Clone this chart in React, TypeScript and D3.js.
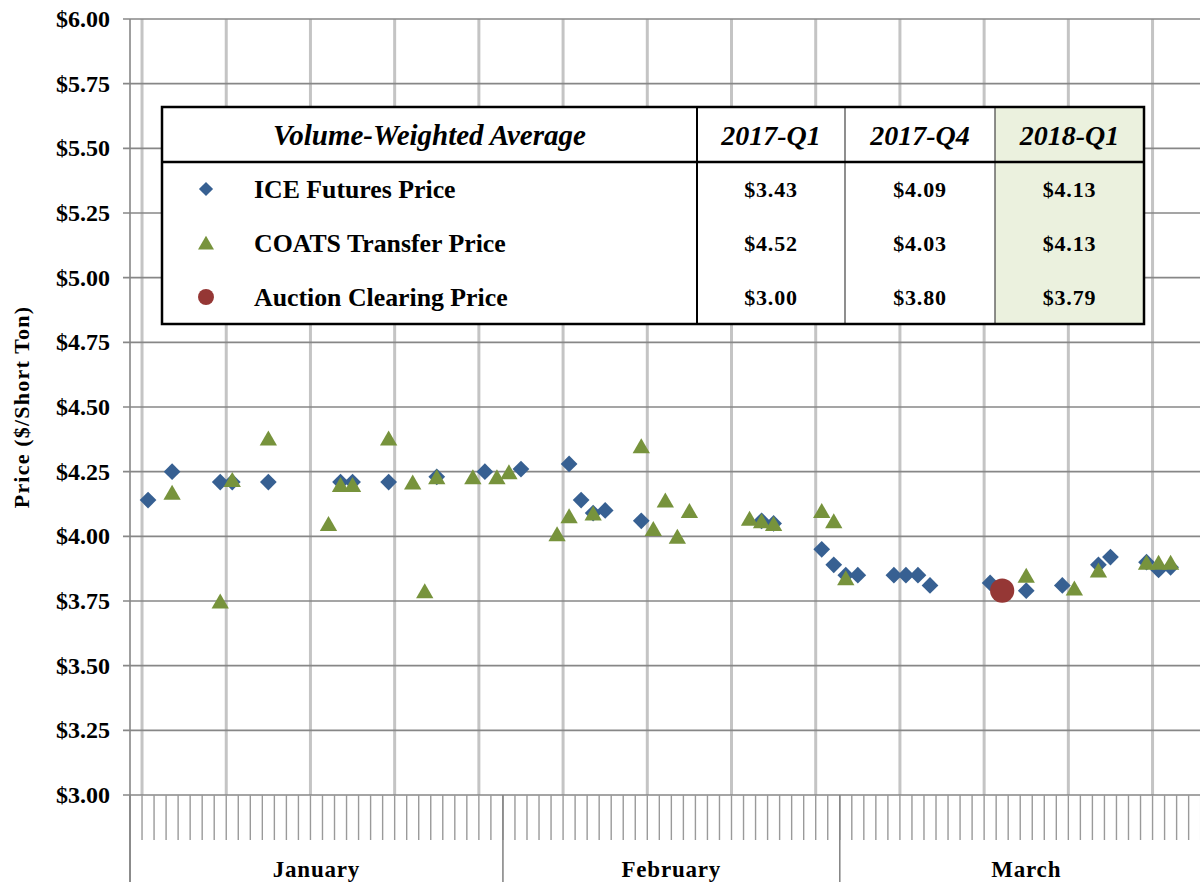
import React from "react";
import * as d3 from "d3";

// daily secondary market prices, Q1 2018
const iceDates = [
  "2018-01-02", "2018-01-04", "2018-01-08", "2018-01-09", "2018-01-12", "2018-01-18",
  "2018-01-19", "2018-01-22", "2018-01-26", "2018-01-30", "2018-02-02", "2018-02-06",
  "2018-02-07", "2018-02-08", "2018-02-09", "2018-02-12", "2018-02-22", "2018-02-23",
  "2018-02-27", "2018-02-28", "2018-03-01", "2018-03-02", "2018-03-05", "2018-03-06",
  "2018-03-07", "2018-03-08", "2018-03-13", "2018-03-16", "2018-03-19", "2018-03-22",
  "2018-03-23", "2018-03-26", "2018-03-27", "2018-03-28",
];
const iceValues = [
  4.14, 4.25, 4.21, 4.21, 4.21, 4.21,
  4.21, 4.21, 4.23, 4.25, 4.26, 4.28,
  4.14, 4.09, 4.1, 4.06, 4.06, 4.05,
  3.95, 3.89, 3.85, 3.85, 3.85, 3.85,
  3.85, 3.81, 3.82, 3.79, 3.81, 3.89,
  3.92, 3.9, 3.87, 3.88,
];

const coatsDates = [
  "2018-01-04", "2018-01-08", "2018-01-09", "2018-01-12", "2018-01-17", "2018-01-18",
  "2018-01-19", "2018-01-22", "2018-01-24", "2018-01-25", "2018-01-26", "2018-01-29",
  "2018-01-31", "2018-02-01", "2018-02-05", "2018-02-06", "2018-02-08", "2018-02-12",
  "2018-02-13", "2018-02-14", "2018-02-15", "2018-02-16", "2018-02-21", "2018-02-22",
  "2018-02-23", "2018-02-27", "2018-02-28", "2018-03-01", "2018-03-16", "2018-03-20",
  "2018-03-22", "2018-03-26", "2018-03-27", "2018-03-28",
];
const coatsValues = [
  4.17, 3.75, 4.22, 4.38, 4.05, 4.2,
  4.2, 4.38, 4.21, 3.79, 4.23, 4.23,
  4.23, 4.25, 4.01, 4.08, 4.09, 4.35,
  4.03, 4.14, 4.0, 4.1, 4.07, 4.06,
  4.05, 4.1, 4.06, 3.84, 3.85, 3.8,
  3.87, 3.9, 3.9, 3.9,
];

const auctionDates = ["2018-03-14"];
const auctionValues = [3.79];

const yTicks = [3, 3.25, 3.5, 3.75, 4, 4.25, 4.5, 4.75, 5, 5.25, 5.5, 5.75, 6];
const monthLabels = ["January", "February", "March"];

const quarters = ["2017-Q1", "2017-Q4", "2018-Q1"];
const seriesNames = ["ICE Futures Price", "COATS Transfer Price", "Auction Clearing Price"];
const iceAverages = [3.43, 4.09, 4.13];
const coatsAverages = [4.52, 4.03, 4.13];
const auctionAverages = [3.0, 3.8, 3.79];

const FONT = "'Liberation Serif', 'Times New Roman', serif";
const BLUE = "#376092";
const GREEN = "#77933c";
const RED = "#953735";

const W = 1200, H = 882;
const left = 130, top = 19, bottom = 795;
const dayW = 12.03;

const parse = (s: string) => new Date(s + "T12:00:00Z");

export default function App() {
  const start = new Date(Date.UTC(2018, 0, 1));
  const end = new Date(Date.UTC(2018, 3, 1));
  const x = d3.scaleUtc().domain([start, end]).range([left, left + 90 * dayW]);
  const y = d3.scaleLinear().domain([3, 6]).range([bottom, top]);

  const days = d3.utcDay.range(start, end);
  const weeks = d3.utcTuesday.range(start, end);
  const months = d3.utcMonth.range(start, end);

  const diamond = d3.symbol(d3.symbolSquare, 140)()!;
  const triH = 15;
  const triangle = d3.symbol(d3.symbolTriangle, 130)()!;
  const circle = d3.symbol(d3.symbolCircle, 460)()!;
  const legDiamond = d3.symbol(d3.symbolSquare, 100)()!;
  const legTriangle = d3.symbol(d3.symbolTriangle, 110)()!;
  const legCircle = d3.symbol(d3.symbolCircle, 200)()!;

  // table geometry
  const tx = [162, 697, 845, 995, 1144];
  const tTop = 107, tHead = 162, tBottom = 324;
  const rowH = (tBottom - tHead) / 3;
  const averages = [iceAverages, coatsAverages, auctionAverages];
  const legendMarks = [
    { d: legDiamond, fill: BLUE, rot: 45, dy: 0 },
    { d: legTriangle, fill: GREEN, rot: 0, dy: 2 },
    { d: legCircle, fill: RED, rot: 0, dy: 0 },
  ];

  return (
    <svg width={W} height={H} style={{ position: "absolute", left: 0, top: 0, background: "#fff" }}
      fontFamily={FONT}>
      <rect width={W} height={H} fill="#fff" />

      {/* weekly vertical gridlines */}
      {weeks.map((d, i) => (
        <line key={"w" + i} x1={x(d)} x2={x(d)} y1={top} y2={bottom} stroke="#c4c4c4" strokeWidth={3} />
      ))}

      {/* horizontal gridlines */}
      {yTicks.map((t) => (
        <line key={"g" + t} x1={123} x2={W} y1={y(t)} y2={y(t)} stroke="#878787" strokeWidth={1.6} />
      ))}
      {yTicks.map((t) => (
        <text key={"yl" + t} x={110} y={y(t) + 8} textAnchor="end" fontSize={24} fontWeight="bold">
          {"$" + t.toFixed(2)}
        </text>
      ))}

      <line x1={left} x2={left} y1={top} y2={H} stroke="#878787" strokeWidth={1.6} />

      {/* day ticks and month separators */}
      {days.map((d, i) => (
        <line key={"d" + i} x1={x(d)} x2={x(d)} y1={bottom} y2={840} stroke="#9a9a9a" strokeWidth={1.4} />
      ))}
      {months.map((d, i) => (
        <line key={"m" + i} x1={x(d)} x2={x(d)} y1={bottom} y2={H} stroke="#878787" strokeWidth={1.6} />
      ))}
      {months.map((d, i) => {
        const next = d3.utcMonth.offset(d, 1);
        return (
          <text key={"ml" + i} x={(x(d) + x(next)) / 2} y={877} textAnchor="middle" fontSize={23}
            fontWeight="bold" letterSpacing={0.8}>
            {monthLabels[i]}
          </text>
        );
      })}

      <text transform={`translate(29, ${(top + bottom) / 2}) rotate(-90)`} textAnchor="middle"
        fontSize={22} fontWeight="bold" letterSpacing={1.2}>
        Price ($/Short Ton)
      </text>

      {/* table */}
      <rect x={tx[0]} y={tTop} width={tx[4] - tx[0]} height={tBottom - tTop} fill="#fff" />
      <rect x={tx[3]} y={tTop} width={tx[4] - tx[3]} height={tBottom - tTop} fill="#ebf1de" />
      <line x1={tx[1]} x2={tx[1]} y1={tTop} y2={tBottom} stroke="#000" strokeWidth={2} />
      <line x1={tx[2]} x2={tx[2]} y1={tTop} y2={tBottom} stroke="#444" strokeWidth={1.2} />
      <line x1={tx[3]} x2={tx[3]} y1={tTop} y2={tBottom} stroke="#444" strokeWidth={1.2} />
      <line x1={tx[0]} x2={tx[4]} y1={tHead} y2={tHead} stroke="#000" strokeWidth={2.5} />
      <rect x={tx[0]} y={tTop} width={tx[4] - tx[0]} height={tBottom - tTop} fill="none" stroke="#000"
        strokeWidth={2.5} />
      <text x={(tx[0] + tx[1]) / 2} y={145} textAnchor="middle" fontSize={29} fontWeight="bold"
        fontStyle="italic">
        Volume-Weighted Average
      </text>
      {quarters.map((q, i) => (
        <text key={q} x={(tx[i + 1] + tx[i + 2]) / 2} y={145} textAnchor="middle" fontSize={28}
          fontWeight="bold" fontStyle="italic">
          {q}
        </text>
      ))}
      {seriesNames.map((name, r) => {
        const cy = tHead + rowH * (r + 0.5);
        const m = legendMarks[r];
        return (
          <g key={name}>
            <path d={m.d} fill={m.fill} transform={`translate(206, ${cy + m.dy}) rotate(${m.rot})`} />
            <text x={254} y={cy + 9} fontSize={25.8} fontWeight="bold">{name}</text>
            {averages[r].map((v, c) => (
              <text key={c} x={(tx[c + 1] + tx[c + 2]) / 2} y={cy + 8} textAnchor="middle" fontSize={22}
                fontWeight="bold" letterSpacing={0.8}>
                {"$" + v.toFixed(2)}
              </text>
            ))}
          </g>
        );
      })}

      {/* series */}
      {iceDates.map((d, i) => (
        <path key={"i" + i} d={diamond} fill={BLUE}
          transform={`translate(${x(parse(d))}, ${y(iceValues[i])}) rotate(45)`} />
      ))}
      {coatsDates.map((d, i) => (
        <path key={"c" + i} d={triangle} fill={GREEN}
          transform={`translate(${x(parse(d))}, ${y(coatsValues[i]) + triH / 6})`} />
      ))}
      {auctionDates.map((d, i) => (
        <path key={"a" + i} d={circle} fill={RED}
          transform={`translate(${x(parse(d))}, ${y(auctionValues[i])})`} />
      ))}
    </svg>
  );
}
